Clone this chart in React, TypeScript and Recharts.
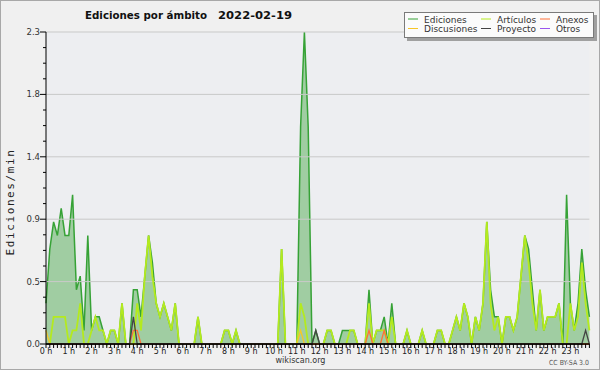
import React from "react";
import { ComposedChart, Area, Line, XAxis, YAxis, CartesianGrid, ReferenceLine } from "recharts";

// edits per minute, one value per 10-minute slot (00:00 -> 23:50)
const ediciones = [
  0.3, 0.7, 0.9, 0.8, 1.0, 0.8, 0.8, 1.1, 0.4, 0.5, 0.1, 0.8,
  0.1, 0.2, 0.2, 0.1, 0, 0.1, 0.1, 0, 0.3, 0, 0, 0.4,
  0.4, 0.2, 0.5, 0.8, 0.6, 0.3, 0.2, 0.3, 0.2, 0.1, 0.3, 0,
  0, 0, 0, 0, 0.2, 0, 0, 0, 0, 0, 0, 0.1,
  0.1, 0, 0.1, 0, 0, 0, 0, 0, 0, 0, 0, 0,
  0, 0, 0.7, 0, 0, 0, 0, 1.6, 2.3, 1.6, 0, 0.1,
  0, 0, 0.1, 0.1, 0, 0, 0.1, 0.1, 0.1, 0.1, 0, 0,
  0, 0.4, 0, 0.1, 0.1, 0.2, 0, 0.3, 0, 0, 0, 0.1,
  0, 0, 0, 0.1, 0, 0, 0, 0.1, 0.1, 0, 0, 0.1,
  0.2, 0.1, 0.3, 0.2, 0, 0.2, 0.1, 0.3, 0.9, 0.4, 0.2, 0.2,
  0, 0.2, 0.2, 0.1, 0.2, 0.5, 0.8, 0.7, 0.4, 0.1, 0.4, 0.1,
  0.2, 0.2, 0.2, 0.3, 0, 1.1, 0.3, 0.1, 0.3, 0.7, 0.4, 0.2,
];

const articulos = [
  0, 0, 0.2, 0.2, 0.2, 0.2, 0, 0.1, 0.1, 0.3, 0, 0,
  0.1, 0.2, 0.1, 0.1, 0, 0.1, 0.1, 0, 0.3, 0, 0, 0,
  0.3, 0.1, 0.5, 0.8, 0.5, 0.3, 0.2, 0.3, 0.2, 0.1, 0.3, 0,
  0, 0, 0, 0, 0.2, 0, 0, 0, 0, 0, 0, 0.1,
  0.1, 0, 0.1, 0, 0, 0, 0, 0, 0, 0, 0, 0,
  0, 0, 0.7, 0, 0, 0, 0, 0.3, 0.2, 0, 0, 0,
  0, 0, 0.1, 0.1, 0, 0, 0, 0, 0.1, 0.1, 0, 0,
  0, 0.3, 0, 0.1, 0.1, 0.1, 0, 0.2, 0, 0, 0, 0.1,
  0, 0, 0, 0.1, 0, 0, 0, 0.1, 0.1, 0, 0, 0.1,
  0.2, 0.1, 0.3, 0.2, 0, 0.2, 0.1, 0.3, 0.9, 0.3, 0.1, 0.2,
  0, 0.2, 0.2, 0.1, 0.2, 0.5, 0.8, 0.6, 0.3, 0.1, 0.4, 0.1,
  0.2, 0.2, 0.2, 0.3, 0, 0, 0.3, 0.1, 0.2, 0.6, 0.3, 0.1,
];

const discusiones = [
  0.1, 0, 0, 0, 0, 0, 0, 0, 0, 0, 0, 0,
  0, 0, 0, 0, 0, 0, 0, 0, 0, 0, 0, 0,
  0, 0, 0, 0, 0, 0, 0, 0, 0, 0, 0, 0,
  0, 0, 0, 0, 0, 0, 0, 0, 0, 0, 0, 0,
  0, 0, 0, 0, 0, 0, 0, 0, 0, 0, 0, 0,
  0, 0, 0, 0, 0, 0, 0, 0.1, 0, 0, 0, 0,
  0, 0, 0, 0, 0, 0, 0, 0, 0, 0, 0, 0,
  0, 0, 0, 0, 0, 0, 0, 0, 0, 0, 0, 0,
  0, 0, 0, 0, 0, 0, 0, 0, 0, 0, 0, 0,
  0, 0, 0, 0, 0, 0, 0, 0, 0, 0, 0, 0,
  0, 0, 0, 0, 0, 0, 0, 0, 0, 0, 0, 0,
  0, 0, 0, 0, 0, 0, 0, 0, 0, 0, 0, 0,
];

const anexos = [
  0, 0, 0, 0, 0, 0, 0, 0, 0, 0, 0, 0,
  0, 0, 0, 0, 0, 0, 0, 0, 0, 0, 0, 0.1,
  0.1, 0, 0, 0, 0, 0, 0, 0, 0, 0, 0, 0,
  0, 0, 0, 0, 0, 0, 0, 0, 0, 0, 0, 0,
  0, 0, 0, 0, 0, 0, 0, 0, 0, 0, 0, 0,
  0, 0, 0, 0, 0, 0, 0, 0, 0, 0, 0, 0,
  0, 0, 0, 0, 0, 0, 0, 0, 0, 0, 0, 0,
  0, 0.1, 0, 0, 0, 0.1, 0, 0, 0, 0, 0, 0,
  0, 0, 0, 0, 0, 0, 0, 0, 0, 0, 0, 0,
  0, 0, 0, 0, 0, 0, 0, 0, 0, 0, 0, 0,
  0, 0, 0, 0, 0, 0, 0, 0, 0, 0, 0, 0,
  0, 0, 0, 0, 0, 0, 0, 0, 0, 0, 0, 0,
];

const proyecto = [
  0, 0, 0, 0, 0, 0, 0, 0, 0, 0, 0, 0,
  0, 0, 0, 0, 0, 0, 0, 0, 0, 0, 0, 0.2,
  0, 0, 0, 0, 0, 0, 0, 0, 0, 0, 0, 0,
  0, 0, 0, 0, 0, 0, 0, 0, 0, 0, 0, 0,
  0, 0, 0, 0, 0, 0, 0, 0, 0, 0, 0, 0,
  0, 0, 0, 0, 0, 0, 0, 0, 0, 0, 0, 0.1,
  0, 0, 0, 0, 0, 0, 0, 0, 0, 0, 0, 0,
  0, 0, 0, 0, 0, 0, 0, 0, 0, 0, 0, 0,
  0, 0, 0, 0, 0, 0, 0, 0, 0, 0, 0, 0,
  0, 0, 0, 0, 0, 0, 0, 0, 0, 0, 0, 0,
  0, 0, 0, 0, 0, 0, 0, 0, 0, 0, 0, 0,
  0, 0, 0, 0, 0, 0, 0, 0, 0, 0, 0.1, 0,
];

const hourLabels = [
  "0 h", "1 h", "2 h", "3 h", "4 h", "5 h", "6 h", "7 h", "8 h", "9 h", "10 h", "11 h",
  "12 h", "13 h", "14 h", "15 h", "16 h", "17 h", "18 h", "19 h", "20 h", "21 h", "22 h", "23 h",
];
const yLabels = ["0.0", "0.5", "0.9", "1.4", "1.8", "2.3"];
const Y_MAX = 2.3;

const legendItems = [
  { name: "Ediciones", color: "#36a236", col: 0, row: 0 },
  { name: "Artículos", color: "#b4ea1e", col: 1, row: 0 },
  { name: "Anexos", color: "#ff7038", col: 2, row: 0 },
  { name: "Discusiones", color: "#f7c626", col: 0, row: 1 },
  { name: "Proyecto", color: "#444444", col: 1, row: 1 },
  { name: "Otros", color: "#9a55ee", col: 2, row: 1 },
];

const rows = ediciones.map((v, i) => ({
  slot: i,
  ediciones: v,
  articulos: articulos[i],
  discusiones: discusiones[i],
  anexos: anexos[i],
  proyecto: proyecto[i],
}));

const xTicks = rows.map((r) => r.slot);
const yTicks = Array.from({ length: 21 }, (_, k) => (Y_MAX * k) / 20);
const yGrid = yTicks.filter((_, k) => k > 0 && k % 4 === 0);

const FONT = "'DejaVu Sans', sans-serif";

const XTick = ({ x, y, payload }: any) => {
  const v = payload.value;
  return (
    <g>
      <line x1={x} x2={x} y1={y} y2={y + 4} stroke="#000" />
      {v % 6 === 0 && (
        <text x={x} y={y + 9.5} textAnchor="middle" fontSize={8} fontFamily={FONT} fill="#222">
          {hourLabels[v / 6]}
        </text>
      )}
    </g>
  );
};

const YTick = ({ x, y, index }: any) => {
  const major = index % 4 === 0;
  return (
    <g>
      <line x1={x - (major ? 6 : 3)} x2={x} y1={y} y2={y} stroke="#000" />
      {major && (
        <text x={x - 6} y={y + 3} textAnchor="end" fontSize={8.5} fontFamily={FONT} fill="#333">
          {yLabels[index / 4]}
        </text>
      )}
    </g>
  );
};

export default function App() {
  const colX = [408, 481, 540];
  const rowY = [19, 28.5];
  return (
    <div style={{ position: "absolute", left: 0, top: 0, width: 600, height: 370, background: "#f0f0f0" }}>
      <ComposedChart
        width={600}
        height={370}
        data={rows}
        margin={{ top: 32, right: 10.6, bottom: 0, left: 0 }}
      >
        <CartesianGrid horizontal={false} vertical={false} fill="#edeef1" />
        {yGrid.map((v) => (
          <ReferenceLine key={v} y={v} stroke="#c9c9c9" />
        ))}
        <Area
          type="linear"
          dataKey="ediciones"
          stroke="#36a236"
          strokeWidth={1.5}
          fill="#2e9a2e"
          fillOpacity={0.4}
          dot={false}
          activeDot={false}
          isAnimationActive={false}
        />
        <Line type="linear" dataKey="articulos" stroke="#b4ea1e" strokeWidth={1.8} dot={false} activeDot={false} isAnimationActive={false} />
        <Line type="linear" dataKey="discusiones" stroke="#f7c626" strokeWidth={1.3} dot={false} activeDot={false} isAnimationActive={false} />
        <Line type="linear" dataKey="anexos" stroke="#ff7038" strokeWidth={1.3} dot={false} activeDot={false} isAnimationActive={false} />
        <Line type="linear" dataKey="proyecto" stroke="#444444" strokeWidth={1.3} dot={false} activeDot={false} isAnimationActive={false} />
        <XAxis
          dataKey="slot"
          type="number"
          domain={[0, 143]}
          ticks={xTicks}
          interval={0}
          tickLine={false}
          tickSize={0}
          tickMargin={0}
          tick={<XTick />}
          height={26}
          axisLine={{ stroke: "#000", strokeWidth: 1.5 }}
        />
        <YAxis
          type="number"
          domain={[0, Y_MAX]}
          ticks={yTicks}
          interval={0}
          tickLine={false}
          tickSize={0}
          tickMargin={0}
          tick={<YTick />}
          width={46}
          axisLine={{ stroke: "#000" }}
        />
      </ComposedChart>

      <svg width={600} height={370} style={{ position: "absolute", left: 0, top: 0, pointerEvents: "none" }}>
        <rect x={0.5} y={0.5} width={599} height={369} fill="none" stroke="#a8a8a8" />
        <text x={85} y={18.5} textLength={122} lengthAdjust="spacingAndGlyphs" fontSize={11} fontWeight="bold" fontFamily={FONT} fill="#111">Ediciones por ámbito</text>
        <text x={218} y={18.5} textLength={74} lengthAdjust="spacingAndGlyphs" fontSize={11} fontWeight="bold" fontFamily={FONT} fill="#111">2022-02-19</text>
        <text
          transform="rotate(-90)"
          x={-202}
          y={13.5}
          textAnchor="middle"
          fontSize={11}
          letterSpacing={1.6}
          fontFamily="'DejaVu Sans Mono', monospace"
          fill="#222"
        >
          Ediciones/min
        </text>

        <rect x={407} y={15} width={190} height={26} fill="#a0a0a0" />
        <rect x={404.5} y={12.5} width={189} height={25} fill="#fbfbfb" stroke="#7a7a7a" />
        {legendItems.map((it) => (
          <g key={it.name}>
            <line x1={colX[it.col]} x2={colX[it.col] + 10} y1={rowY[it.row]} y2={rowY[it.row]} stroke={it.color} />
            <text x={colX[it.col] + 16} y={rowY[it.row] + 3.5} fontSize={9} fontFamily={FONT} fill="#333">
              {it.name}
            </text>
          </g>
        ))}

        <text x={300.5} y={363} textAnchor="middle" fontSize={8} fontFamily={FONT} fill="#333">wikiscan.org</text>
        <text x={549} y={365} textLength={40} lengthAdjust="spacingAndGlyphs" fontSize={7} fontFamily={FONT} fill="#555">CC BY-SA 3.0</text>
      </svg>
    </div>
  );
}
